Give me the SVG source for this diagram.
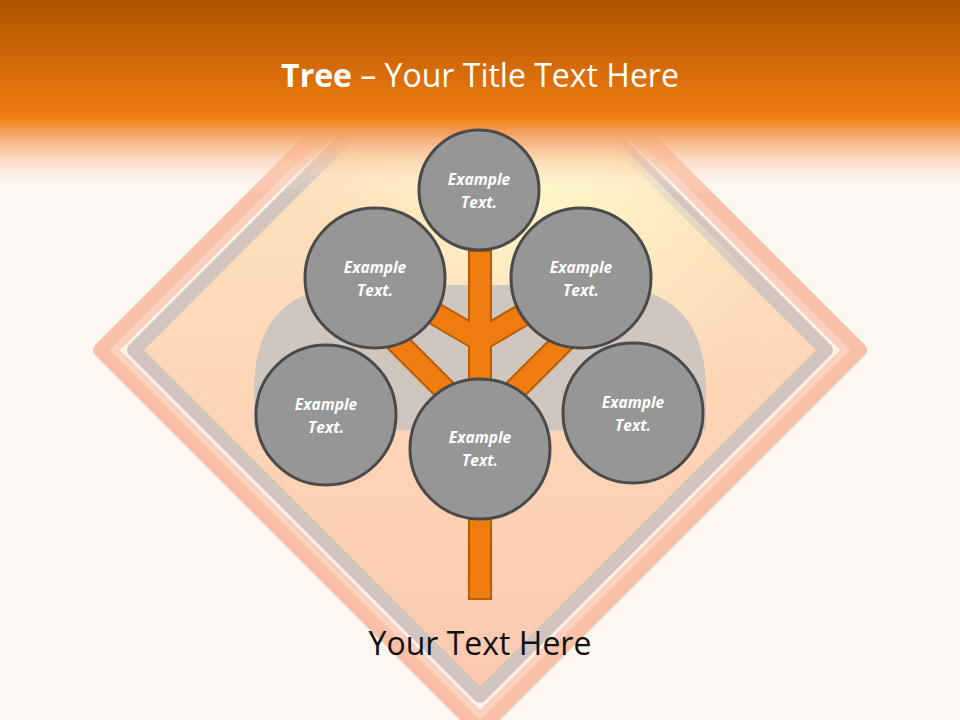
<svg xmlns="http://www.w3.org/2000/svg" width="960" height="720" viewBox="0 0 960 720">
<defs>
<linearGradient id="hdr" x1="0" y1="0" x2="0" y2="1">
<stop offset="0" stop-color="#b05400"/><stop offset="0.6" stop-color="#f07c10"/><stop offset="0.68" stop-color="#f5a060"/><stop offset="1" stop-color="#fdf7f3" stop-opacity="0"/>
</linearGradient>
<linearGradient id="dia" x1="0" y1="0" x2="0" y2="1">
<stop offset="0" stop-color="#fde9c0"/><stop offset="0.5" stop-color="#fdd8b8"/><stop offset="1" stop-color="#fcc9b0"/>
</linearGradient>
<radialGradient id="glow" cx="0.6" cy="0.25" r="0.35">
<stop offset="0" stop-color="#fff6c8"/><stop offset="1" stop-color="#fff6c8" stop-opacity="0"/>
</radialGradient>
<style>
.c{fill:#969696;stroke:#4a4a4a;stroke-width:3}
.t{font-family:"Open Sans","Liberation Sans",sans-serif;font-weight:bold;font-style:italic;font-size:15.5px;fill:#fff;text-anchor:middle}
.b{stroke:#b85c00;stroke-width:24;stroke-linecap:butt}
.bi{stroke:#f07c10;stroke-width:20}
</style>
</defs>
<rect width="960" height="720" fill="#fdf7f3"/>
<g id="sign">
<polygon points="480,-30 860,350 480,730 100,350" fill="#fbd2c2" stroke="#f9c0a8" stroke-width="14" stroke-linejoin="round"/>
<polygon points="480,-12 842,350 480,712 118,350" fill="#fdf3ee" stroke="#fbcfb8" stroke-width="3" stroke-linejoin="round"/>
<polygon points="480,4 826,350 480,696 134,350" fill="url(#dia)" stroke="#d2c5be" stroke-width="14" stroke-linejoin="round"/>
<polygon points="480,4 826,350 480,696 134,350" fill="url(#glow)"/>
<path d="M254,430 V390 Q254,285 360,285 H600 Q706,285 706,390 V430 Z" fill="#cfc6c0"/>
</g>
<rect width="960" height="195" fill="url(#hdr)"/>
<text x="480" y="87" text-anchor="middle" font-family="'Open Sans','Liberation Sans',sans-serif" font-size="32" fill="#fff"><tspan font-weight="bold">Tree</tspan> – Your Title Text Here</text>
<g id="connectors">
<line class="b" x1="480" y1="250" x2="480" y2="600"/>
<line class="b" x1="480" y1="340" x2="420" y2="305"/>
<line class="b" x1="480" y1="340" x2="540" y2="305"/>
<line class="b" x1="450" y1="395" x2="395" y2="340"/>
<line class="b" x1="510" y1="395" x2="565" y2="340"/>
<line class="bi" x1="480" y1="252" x2="480" y2="598"/>
<line class="bi" x1="478" y1="339" x2="420" y2="305"/>
<line class="bi" x1="482" y1="339" x2="540" y2="305"/>
<line class="bi" x1="450" y1="395" x2="395" y2="340"/>
<line class="bi" x1="510" y1="395" x2="565" y2="340"/>
</g>
<g id="n1"><circle class="c" cx="479" cy="190" r="60"/><text class="t" x="479" y="185">Example</text><text class="t" x="479" y="208">Text.</text></g>
<g id="n2"><circle class="c" cx="375" cy="278" r="70"/><text class="t" x="375" y="273">Example</text><text class="t" x="375" y="296">Text.</text></g>
<g id="n3"><circle class="c" cx="581" cy="278" r="70"/><text class="t" x="581" y="273">Example</text><text class="t" x="581" y="296">Text.</text></g>
<g id="n4"><circle class="c" cx="326" cy="415" r="70"/><text class="t" x="326" y="410">Example</text><text class="t" x="326" y="433">Text.</text></g>
<g id="n5"><circle class="c" cx="480" cy="449" r="70"/><text class="t" x="480" y="443">Example</text><text class="t" x="480" y="466">Text.</text></g>
<g id="n6"><circle class="c" cx="633" cy="413" r="70"/><text class="t" x="633" y="408">Example</text><text class="t" x="633" y="431">Text.</text></g>
<text x="480" y="655" text-anchor="middle" font-family="'Open Sans','Liberation Sans',sans-serif" font-size="32" fill="#111">Your Text Here</text>
</svg>
